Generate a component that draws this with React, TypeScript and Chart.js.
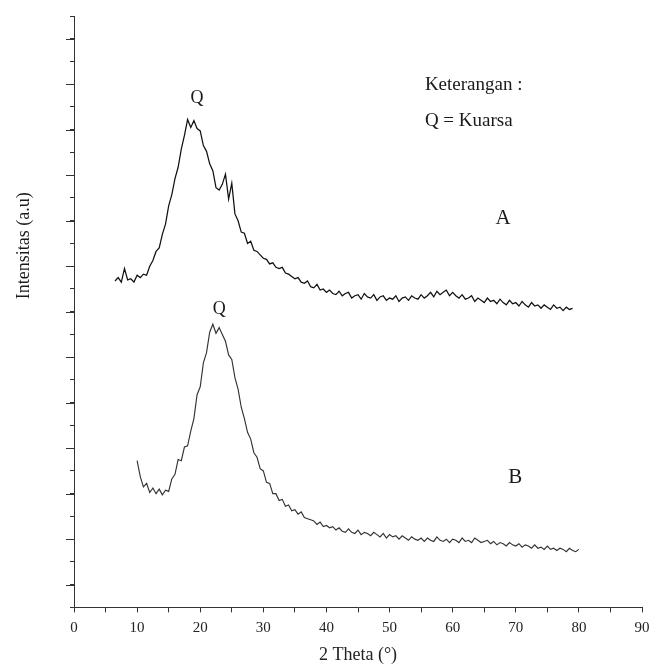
import { useEffect, useRef } from 'react';
import { Chart, registerables } from 'chart.js';

Chart.register(...registerables);

// Sample A (2θ in degrees, intensity in arbitrary units)
const thetaA = [
  6.5, 7, 7.5, 8, 8.5, 9, 9.5, 10, 10.5, 11,
  11.5, 12, 12.5, 13, 13.5, 14, 14.5, 15, 15.5, 16,
  16.5, 17, 17.5, 18, 18.5, 19, 19.5, 20, 20.5, 21,
  21.5, 22, 22.5, 23, 23.5, 24, 24.5, 25, 25.5, 26,
  26.5, 27, 27.5, 28, 28.5, 29, 29.5, 30, 30.5, 31,
  31.5, 32, 32.5, 33, 33.5, 34, 34.5, 35, 35.5, 36,
  36.5, 37, 37.5, 38, 38.5, 39, 39.5, 40, 40.5, 41,
  41.5, 42, 42.5, 43, 43.5, 44, 44.5, 45, 45.5, 46,
  46.5, 47, 47.5, 48, 48.5, 49, 49.5, 50, 50.5, 51,
  51.5, 52, 52.5, 53, 53.5, 54, 54.5, 55, 55.5, 56,
  56.5, 57, 57.5, 58, 58.5, 59, 59.5, 60, 60.5, 61,
  61.5, 62, 62.5, 63, 63.5, 64, 64.5, 65, 65.5, 66,
  66.5, 67, 67.5, 68, 68.5, 69, 69.5, 70, 70.5, 71,
  71.5, 72, 72.5, 73, 73.5, 74, 74.5, 75, 75.5, 76,
  76.5, 77, 77.5, 78, 78.5, 79,
];
const intensityA = [
  14.35, 14.5, 14.3, 14.9, 14.4, 14.45, 14.3, 14.6, 14.5, 14.65,
  14.6, 15.0, 15.25, 15.65, 15.8, 16.4, 16.85, 17.65, 18.15, 18.85,
  19.35, 20.15, 20.75, 21.45, 21.1, 21.4, 21.05, 20.95, 20.3, 20.05,
  19.5, 19.2, 18.45, 18.35, 18.6, 19.05, 17.95, 18.65, 17.3, 17.0,
  16.5, 16.45, 16.0, 16.1, 15.7, 15.65, 15.5, 15.35, 15.3, 15.1,
  15.15, 14.95, 14.9, 14.95, 14.7, 14.65, 14.55, 14.45, 14.5, 14.3,
  14.25, 14.35, 14.1, 14.05, 14.2, 13.95, 14.0, 13.85, 13.95, 13.8,
  13.75, 13.9, 13.7, 13.8, 13.85, 13.6, 13.7, 13.75, 13.55, 13.8,
  13.65, 13.6, 13.75, 13.5, 13.65, 13.7, 13.5, 13.6, 13.55, 13.7,
  13.45, 13.6, 13.65, 13.5, 13.7, 13.6, 13.55, 13.75, 13.6, 13.7,
  13.85, 13.65, 13.9, 13.75, 13.85, 13.95, 13.7, 13.85, 13.7, 13.6,
  13.75, 13.55, 13.6, 13.7, 13.45, 13.6, 13.5, 13.4, 13.6, 13.45,
  13.5, 13.35, 13.55, 13.4, 13.3, 13.5, 13.35, 13.4, 13.25, 13.45,
  13.3, 13.2, 13.4, 13.25, 13.3, 13.15, 13.3, 13.2, 13.1, 13.3,
  13.15, 13.2, 13.05, 13.2, 13.1, 13.15,
];

// Sample B
const thetaB = [
  10, 10.5, 11, 11.5, 12, 12.5, 13, 13.5, 14, 14.5,
  15, 15.5, 16, 16.5, 17, 17.5, 18, 18.5, 19, 19.5,
  20, 20.5, 21, 21.5, 22, 22.5, 23, 23.5, 24, 24.5,
  25, 25.5, 26, 26.5, 27, 27.5, 28, 28.5, 29, 29.5,
  30, 30.5, 31, 31.5, 32, 32.5, 33, 33.5, 34, 34.5,
  35, 35.5, 36, 36.5, 37, 37.5, 38, 38.5, 39, 39.5,
  40, 40.5, 41, 41.5, 42, 42.5, 43, 43.5, 44, 44.5,
  45, 45.5, 46, 46.5, 47, 47.5, 48, 48.5, 49, 49.5,
  50, 50.5, 51, 51.5, 52, 52.5, 53, 53.5, 54, 54.5,
  55, 55.5, 56, 56.5, 57, 57.5, 58, 58.5, 59, 59.5,
  60, 60.5, 61, 61.5, 62, 62.5, 63, 63.5, 64, 64.5,
  65, 65.5, 66, 66.5, 67, 67.5, 68, 68.5, 69, 69.5,
  70, 70.5, 71, 71.5, 72, 72.5, 73, 73.5, 74, 74.5,
  75, 75.5, 76, 76.5, 77, 77.5, 78, 78.5, 79, 79.5,
  80,
];
const intensityB = [
  6.45, 5.75, 5.3, 5.45, 5.05, 5.25, 5.0, 5.2, 4.95, 5.15,
  5.1, 5.65, 5.85, 6.5, 6.45, 7.05, 7.1, 7.75, 8.3, 9.35,
  9.7, 10.75, 11.2, 12.1, 12.45, 12.05, 12.3, 12.0, 11.7, 11.1,
  10.9, 10.1, 9.6, 8.8, 8.3, 7.7, 7.4, 6.8, 6.6, 6.1,
  6.0, 5.5, 5.45, 5.0, 5.0, 4.7, 4.75, 4.45, 4.5, 4.25,
  4.3, 4.1, 4.2, 3.95, 3.9, 3.85, 3.8, 3.65, 3.75, 3.55,
  3.6, 3.5, 3.55, 3.4, 3.5, 3.35, 3.3, 3.45, 3.3, 3.25,
  3.4, 3.2, 3.3, 3.25, 3.15, 3.3, 3.2, 3.1, 3.25, 3.05,
  3.2, 3.1, 3.15, 3.0, 3.15, 3.05, 2.95, 3.1, 3.0, 2.95,
  3.05, 2.9, 3.05, 2.95, 2.9, 3.1, 2.95, 2.9, 3.0, 2.85,
  3.0, 2.95, 2.85, 3.05, 2.9, 2.95, 2.85, 3.05, 2.95, 2.85,
  2.9, 2.95, 2.8, 2.9, 2.75, 2.85, 2.8, 2.7, 2.85, 2.75,
  2.7, 2.8, 2.65, 2.75, 2.7, 2.6, 2.75, 2.6, 2.65, 2.55,
  2.7, 2.55, 2.6, 2.5, 2.6, 2.55, 2.45, 2.6, 2.5, 2.45,
  2.55,
];

// Axis
const xMin = 0;
const xMax = 90;
const xStep = 5;
const yMin = 0;
const yMax = 26;

// Annotations (text, position in data units)
const noteTexts = ['Q', 'Q', 'A', 'B', 'Keterangan :', 'Q = Kuarsa'];
const noteTheta = [19.5, 23.0, 68.0, 69.9, 55.6, 55.6];
const noteIntensity = [22.4, 13.1, 17.1, 5.7, 22.95, 21.4];
const noteSizes = [18, 18, 21, 21, 19, 19];
const noteAlign = ['center', 'center', 'center', 'center', 'left', 'left'];

const yTitle = 'Intensitas (a.u)';
const xTitle = '2 Theta (°)';
const FONT = "'Liberation Serif', 'Times New Roman', serif";

const overlayPlugin = {
  id: 'overlay',
  afterDraw(chart: any) {
    const { ctx, chartArea } = chart;
    const xs = chart.scales.x;
    const ys = chart.scales.y;
    ctx.save();
    // long ticks on odd y values
    ctx.strokeStyle = '#333';
    ctx.lineWidth = 1;
    ys.ticks.forEach((t: any) => {
      if (Math.round(t.value) % 2 === 1) {
        const py = Math.round(ys.getPixelForValue(t.value)) + 0.5;
        ctx.beginPath();
        ctx.moveTo(chartArea.left - 8, py);
        ctx.lineTo(chartArea.left, py);
        ctx.stroke();
      }
    });
    // annotations
    ctx.fillStyle = '#1a1a1a';
    ctx.textBaseline = 'middle';
    noteTexts.forEach((txt, i) => {
      ctx.font = `${noteSizes[i]}px ${FONT}`;
      ctx.textAlign = noteAlign[i] as CanvasTextAlign;
      ctx.fillText(txt, xs.getPixelForValue(noteTheta[i]), ys.getPixelForValue(noteIntensity[i]));
    });
    // y title
    ctx.font = `18px ${FONT}`;
    ctx.textAlign = 'center';
    ctx.translate(chartArea.left - 50, ys.getPixelForValue(15.9));
    ctx.rotate(-Math.PI / 2);
    ctx.fillText(yTitle, 0, 0);
    ctx.restore();
  },
};

export default function App() {
  const ref = useRef<HTMLCanvasElement | null>(null);
  useEffect(() => {
    if (!ref.current) return;
    const chart = new Chart(ref.current, {
      type: 'line',
      data: {
        datasets: [
          {
            label: 'A',
            data: thetaA.map((t, i) => ({ x: t, y: intensityA[i] })),
            borderColor: '#111',
            borderWidth: 1.25,
            pointRadius: 0,
            tension: 0,
          },
          {
            label: 'B',
            data: thetaB.map((t, i) => ({ x: t, y: intensityB[i] })),
            borderColor: '#333',
            borderWidth: 1.15,
            pointRadius: 0,
            tension: 0,
          },
        ],
      },
      options: {
        animation: false,
        responsive: false,
        layout: { padding: { left: 70, right: 8, top: 16, bottom: 0 } },
        plugins: { legend: { display: false }, tooltip: { enabled: false } },
        scales: {
          x: {
            type: 'linear',
            min: xMin,
            max: xMax,
            afterFit: (s: any) => {
              s.paddingRight = 0;
              s.paddingLeft = 0;
            },
            ticks: {
              stepSize: xStep,
              autoSkip: false,
              maxRotation: 0,
              padding: 7,
              color: '#222',
              font: { family: FONT, size: 15 },
              callback: (v: any) => (Number(v) % 10 === 0 ? String(v) : ''),
            },
            grid: { drawOnChartArea: false, drawTicks: true, tickLength: 5, color: '#333' },
            border: { display: true, color: '#333', width: 1 },
            title: {
              display: true,
              text: xTitle,
              color: '#222',
              font: { family: FONT, size: 18 },
              padding: { top: 0, bottom: 0 },
            },
          },
          y: {
            type: 'linear',
            min: yMin,
            max: yMax,
            ticks: { stepSize: 1, display: false },
            grid: { drawOnChartArea: false, drawTicks: true, tickLength: 4, color: '#333' },
            border: { display: true, color: '#333', width: 1 },
          },
        },
      },
      plugins: [overlayPlugin],
    });
    return () => chart.destroy();
  }, []);
  return (
    <canvas
      ref={ref}
      width={650}
      height={666}
      style={{ position: 'absolute', left: 0, top: 0, width: 650, height: 666 }}
    />
  );
}
